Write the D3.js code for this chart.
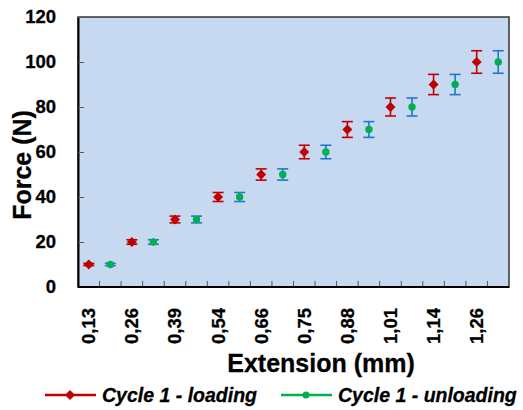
<!DOCTYPE html>
<html>
<head>
<meta charset="utf-8">
<script src="https://cdn.jsdelivr.net/npm/d3@7"></script>
<style>
  body { margin: 0; background: #fff; }
  svg { display: block; font-family: "Liberation Sans", Arial, sans-serif; }
</style>
</head>
<body>
<div id="chart"></div>
<script>
// data
var extension = ["0,13", "0,26", "0,39", "0,54", "0,66", "0,75", "0,88", "1,01", "1,14", "1,26"];
var loading = [10, 20, 30, 40, 50, 60, 70, 80, 90, 100];
var unloading = [10, 20, 30, 40, 50, 60, 70, 80, 90, 100];
var loadingErr = [0.5, 1, 1.5, 2, 2.5, 3, 3.5, 4, 4.5, 5];
var unloadingErr = [0.5, 1, 1.5, 2, 2.5, 3, 3.5, 4, 4.5, 5];
var yTicks = [0, 20, 40, 60, 80, 100, 120];

var width_all = 523, height_all = 410;
var margin = { top: 17, right: 14, bottom: 123, left: 78 },
    width = width_all - margin.left - margin.right,
    height = height_all - margin.top - margin.bottom;

var svg = d3.select("#chart")
    .append("svg")
    .attr("width", width_all)
    .attr("height", height_all)
    .append("g")
    .attr("transform", "translate(" + margin.left + "," + margin.top + ")");

// two slots per extension value: loading then unloading
var slots = d3.range(extension.length * 2);
var x = d3.scaleBand().domain(slots).range([0, width]);
var y = d3.scaleLinear().domain([0, 120]).range([height, 0]);

// plot background
svg.append("rect")
    .attr("width", width)
    .attr("height", height)
    .attr("fill", "#c6d9f1")
    .attr("stroke", "#333")
    .attr("stroke-width", 1.5);

// x ticks (inside, at slot boundaries)
svg.append("g")
    .selectAll("line")
    .data(slots.slice(1))
    .enter()
    .append("line")
    .attr("x1", function(d) { return x(d); })
    .attr("x2", function(d) { return x(d); })
    .attr("y1", height)
    .attr("y2", height - 6)
    .attr("stroke", "#555")
    .attr("stroke-width", 1);

// y axis
var yAxis = svg.append("g")
    .call(d3.axisLeft(y).tickValues(yTicks).tickSizeInner(-6).tickSizeOuter(0).tickPadding(22));
yAxis.select(".domain").attr("stroke", "#000").attr("stroke-width", 2);
yAxis.selectAll(".tick line").attr("stroke", "#555");
yAxis.selectAll("text")
    .attr("font-size", "18.5px")
    .attr("font-weight", "bold")
    .attr("fill", "#000")
    .attr("stroke", "#000")
    .attr("stroke-width", 0.3)
    .attr("font-family", "'Liberation Sans', Arial, sans-serif");
yAxis.selectAll(".tick").filter(function(d) { return d == 0; }).select("line").remove();

// bottom axis line
svg.append("line")
    .attr("x1", 0).attr("x2", width)
    .attr("y1", height).attr("y2", height)
    .attr("stroke", "#000").attr("stroke-width", 2);

// x tick labels, rotated
svg.append("g")
    .selectAll("text")
    .data(extension)
    .enter()
    .append("text")
    .attr("transform", function(d, i) {
        return "translate(" + (x(i * 2) + x.bandwidth() / 2) + "," + (height + 21) + ") rotate(-90)";
    })
    .attr("text-anchor", "end")
    .attr("dy", "0.35em")
    .attr("font-size", "18.5px")
    .attr("font-weight", "bold")
    .attr("stroke", "#000")
    .attr("stroke-width", 0.3)
    .text(function(d) { return d; });

// error bars
function drawErrors(values, errs, offset, color) {
    var g = svg.append("g").attr("stroke", color).attr("stroke-width", 1.6);
    values.forEach(function(v, i) {
        var cx = x(i * 2 + offset) + x.bandwidth() / 2;
        g.append("line").attr("x1", cx).attr("x2", cx).attr("y1", y(v - errs[i])).attr("y2", y(v + errs[i]));
        g.append("line").attr("x1", cx - 5.5).attr("x2", cx + 5.5).attr("y1", y(v - errs[i])).attr("y2", y(v - errs[i]));
        g.append("line").attr("x1", cx - 5.5).attr("x2", cx + 5.5).attr("y1", y(v + errs[i])).attr("y2", y(v + errs[i]));
    });
}
drawErrors(loading, loadingErr, 0, "#c00000");
drawErrors(unloading, unloadingErr, 1, "#2178c8");

// markers: square turned 45 degrees makes the diamond
var diamond = d3.symbol().type(d3.symbolSquare).size(50);
svg.append("g")
    .selectAll("path")
    .data(loading)
    .enter()
    .append("path")
    .attr("d", diamond)
    .attr("transform", function(d, i) { return "translate(" + (x(i * 2) + x.bandwidth() / 2) + "," + y(d) + ") rotate(45)"; })
    .attr("fill", "#c00000");

svg.append("g")
    .selectAll("circle")
    .data(unloading)
    .enter()
    .append("circle")
    .attr("cx", function(d, i) { return x(i * 2 + 1) + x.bandwidth() / 2; })
    .attr("cy", function(d) { return y(d); })
    .attr("r", 3.7)
    .attr("fill", "#00b050");

// axis labels
svg.append("text")
    .attr("text-anchor", "middle")
    .attr("font-size", "25px")
    .attr("font-weight", "bold")
    .attr("stroke", "#000")
    .attr("stroke-width", 0.3)
    .attr("x", 321 - margin.left)
    .attr("y", 372 - margin.top)
    .text("Extension (mm)");

svg.append("text")
    .attr("transform", "rotate(-90)")
    .attr("x", 0 - (165 - margin.top))
    .attr("y", 31 - margin.left)
    .attr("text-anchor", "middle")
    .attr("font-size", "25px")
    .attr("font-weight", "bold")
    .attr("stroke", "#000")
    .attr("stroke-width", 0.3)
    .text("Force (N)");

// legend
var legend = [
    { name: "Cycle 1 - loading", color: "#c00000", shape: "diamond", x0: 45 },
    { name: "Cycle 1 - unloading", color: "#00b050", shape: "circle", x0: 281 }
];
var lg = d3.select("svg").append("g");
legend.forEach(function(d) {
    var ly = 395;
    lg.append("line")
        .attr("x1", d.x0).attr("x2", d.x0 + 51)
        .attr("y1", ly).attr("y2", ly)
        .attr("stroke", d.color).attr("stroke-width", 2.5);
    if (d.shape == "diamond") {
        lg.append("path")
            .attr("d", diamond)
            .attr("transform", "translate(" + (d.x0 + 25) + "," + ly + ") rotate(45)")
            .attr("fill", d.color);
    } else {
        lg.append("circle")
            .attr("cx", d.x0 + 25).attr("cy", ly).attr("r", 3.5)
            .attr("fill", d.color);
    }
    lg.append("text")
        .attr("x", d.x0 + 57)
        .attr("y", ly)
        .attr("dy", "0.36em")
        .attr("font-size", "19.5px")
        .attr("font-weight", "bold")
        .attr("font-style", "italic")
        .attr("stroke", "#000")
        .attr("stroke-width", 0.3)
        .text(d.name);
});
</script>
</body>
</html>
